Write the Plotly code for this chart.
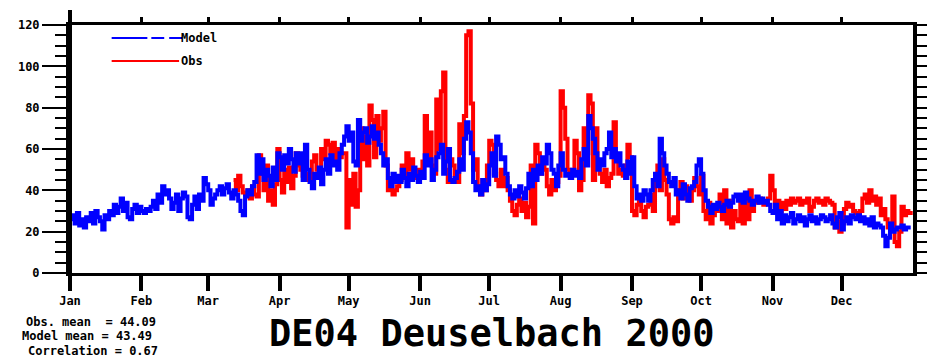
import numpy as np
import pandas as pd
import plotly.graph_objects as go

# Daily ozone-like series for station DE04 Deuselbach, year 2000 (366 days)
days = pd.date_range("2000-01-01", periods=366, freq="D")

model = [
    26, 28, 24, 29, 23, 26, 22, 27, 25, 29,
    24, 30, 27, 25, 21, 28, 26, 30, 28, 33,
    29, 32, 36, 30, 34, 27, 26, 31, 33, 29,
    32, 30, 29, 31, 30, 32, 35, 31, 38, 34,
    42, 38, 40, 36, 31, 34, 38, 30, 36, 39,
    37, 27, 26, 33, 37, 31, 38, 35, 46, 43,
    40, 33, 36, 38, 40, 42, 38, 41, 43, 39,
    36, 40, 38, 35, 30, 28, 37, 40, 38, 42,
    44, 57, 48, 55, 45, 50, 47, 42, 51, 45,
    58, 56, 50, 57, 53, 60, 55, 49, 58, 53,
    58, 45, 62, 50, 44, 41, 48, 46, 51, 43,
    50, 55, 48, 57, 52, 54, 50, 58, 62, 66,
    71, 64, 68, 54, 52, 74, 64, 68, 70, 63,
    66, 71, 65, 68, 62, 58, 52, 55, 46, 42,
    48, 44, 47, 44, 50, 46, 42, 48, 45, 51,
    47, 44, 49, 46, 57, 52, 55, 45, 50, 56,
    58, 62, 48, 54, 60, 45, 44, 46, 49, 55,
    50, 65, 73, 68, 58, 44, 40, 42, 38, 45,
    40, 43, 52, 58, 47, 66, 62, 55, 56, 48,
    42, 38, 36, 40, 37, 42, 39, 36, 41, 48,
    42, 50, 45, 52, 48, 56, 53, 62, 58, 50,
    48, 42, 52, 58, 50, 47, 48, 46, 50, 47,
    49, 46, 55, 60, 52, 76, 70, 65, 58, 50,
    55, 52, 58, 60, 68, 56, 60, 54, 58, 52,
    50, 46, 54, 48, 56, 42, 36, 38, 35, 40,
    38, 35, 40, 45, 48, 42, 65, 58, 52, 48,
    44, 42, 46, 38, 40, 36, 43, 38, 35, 41,
    42, 44, 52, 55, 48, 40, 35, 32, 29, 33,
    31, 34, 32, 30, 33, 35, 32, 34, 37, 38,
    35, 38, 34, 39, 36, 35, 33, 35, 37, 34,
    36, 34, 35, 33, 30, 29, 33, 26, 30, 24,
    28, 25, 27, 29, 24, 26, 28, 25, 27, 23,
    26, 28, 25, 27, 24, 26, 28, 27, 25, 26,
    28, 24, 22, 27, 29, 21, 25, 27, 24, 28,
    27, 26, 28, 25, 27, 24, 26, 23, 27, 22,
    24, 23, 22, 18, 13, 17, 24, 20, 21, 22,
    22, 23, 21, 22, 22, 22,
]

# Observations start in mid-March
obs = [None] * 71 + [
    45, 40, 47, 42, 39, 38, 40, 36, 42,
    38, 37, 57, 48, 40, 52, 35, 40, 33, 43,
    60, 45, 39, 50, 44, 51, 41, 47, 58, 52,
    50, 47, 45, 48, 46, 54, 57, 50, 47, 60,
    55, 64, 62, 58, 63, 55, 60, 56, 58, 58,
    22, 45, 33, 48, 32, 40, 70, 55, 66, 52,
    81, 74, 56, 76, 64, 70, 78, 52, 40, 44,
    38, 40, 42, 45, 52, 46, 58, 50, 55, 48,
    46, 50, 48, 54, 76, 56, 68, 52, 48, 84,
    60, 88, 97, 50, 44, 55, 52, 47, 44, 72,
    58, 76, 115, 117, 82, 50, 55, 42, 38, 45,
    40, 52, 64, 62, 48, 45, 42, 50, 42, 46,
    40, 35, 30, 28, 33, 36, 30, 34, 27, 32,
    52, 24, 62, 58, 48, 55, 50, 42, 38, 45,
    40, 44, 47, 88, 80, 65, 50, 46, 48, 64,
    58, 40, 45, 70, 58, 86, 82, 45, 70, 52,
    48, 44, 50, 42, 46, 48, 73, 55, 48, 50,
    47, 52, 62, 56, 30, 28, 33, 36, 30, 27,
    32, 33, 38, 30, 44, 52, 40, 55, 45, 38,
    26, 24, 27, 25, 40, 44, 36, 42, 38, 35,
    40, 46, 42, 38, 47, 30, 26, 34, 24, 28,
    32, 30, 38, 26, 40, 24, 35, 22, 30, 26,
    25, 34, 24, 38, 26, 40, 30, 35, 34, 36,
    35, 33, 34, 36, 47, 40, 32, 35, 30, 34,
    31, 35, 33, 36, 34, 35, 36, 33, 35, 34,
    36, 30, 32, 35, 36, 34, 35, 33, 36, 35,
    34, 33, 22, 25, 20, 24, 31, 34, 32, 33,
    30, 29, 27, 30, 36, 38, 34, 40, 35, 37,
    33, 36, 28, 31, 26, 22, 24, 37, 15, 13,
    20, 32, 28, 30, 29, 30,
]

month_starts = pd.date_range("2000-01-01", periods=12, freq="MS")
month_labels = ["Jan", "Feb", "Mar", "Apr", "May", "Jun",
                "Jul", "Aug", "Sep", "Oct", "Nov", "Dec"]
y_ticks = [0, 20, 40, 60, 80, 100, 120]
title_text = "DE04 Deuselbach 2000"

# Summary statistics over days with both series available
m_arr = np.array(model, dtype=float)
o_arr = np.array([np.nan if v is None else v for v in obs], dtype=float)
both = ~np.isnan(o_arr)
obs_mean = o_arr[both].mean()
mod_mean = m_arr[both].mean()
corr = np.corrcoef(o_arr[both], m_arr[both])[0, 1]

BLUE = "#0000ff"
RED = "#ff0000"
FONT = "DejaVu Sans Mono"
x_range = ["2000-01-01", "2001-01-01"]

fig = go.Figure()
fig.add_trace(go.Scatter(x=days, y=obs, mode="lines", line=dict(color=RED, width=4, shape="hv"),
                         connectgaps=False, showlegend=False, hoverinfo="skip"))
fig.add_trace(go.Scatter(x=days, y=model, mode="lines", line=dict(color=BLUE, width=4, shape="hv"),
                         showlegend=False, hoverinfo="skip"))
# carrier trace for the top / right frame axes
fig.add_trace(go.Scatter(x=[days[0]], y=[None], xaxis="x2", yaxis="y2",
                         mode="lines", showlegend=False, hoverinfo="skip"))

tick_font = dict(family=FONT, size=12, color="black", weight="bold")

fig.update_layout(
    width=935, height=357,
    margin=dict(l=70, r=15, t=25, b=84),
    paper_bgcolor="white", plot_bgcolor="white",
    xaxis=dict(type="date", range=x_range, tickvals=month_starts, ticktext=month_labels,
               ticks="outside", ticklen=15, tickwidth=4, tickcolor="black",
               showline=True, linewidth=3, linecolor="black", showgrid=False, zeroline=False,
               tickfont=tick_font),
    xaxis2=dict(type="date", range=x_range, overlaying="x", side="top", tickvals=month_starts,
                ticks="outside", ticklen=5, tickwidth=3, tickcolor="black", showticklabels=False,
                showline=True, linewidth=3, linecolor="black", showgrid=False, zeroline=False),
    yaxis=dict(range=[0, 120], tickvals=y_ticks, ticks="outside", ticklen=24, tickwidth=2,
               tickcolor="black", showline=True, linewidth=4, linecolor="black",
               showgrid=False, zeroline=False, tickfont=tick_font,
               minor=dict(dtick=5, ticks="outside", ticklen=11, tickwidth=2, tickcolor="black",
                          showgrid=False)),
    yaxis2=dict(range=[0, 120], overlaying="y", side="right", dtick=5, ticks="outside",
                ticklen=10, tickwidth=2, tickcolor="black", showticklabels=False,
                showline=True, linewidth=4, linecolor="black", showgrid=False, zeroline=False),
)

def px_x(p):
    return (p - 70) / 850.0

def px_y(p):
    return (273 - p) / 248.0

shapes = [
    # left axis spine extending past the frame
    dict(type="line", xref="paper", yref="paper", x0=0, x1=0, y0=px_y(290), y1=px_y(10),
         line=dict(color="black", width=4)),
    # legend keys
    dict(type="line", xref="paper", yref="paper", x0=px_x(112), x1=px_x(148), y0=px_y(38), y1=px_y(38),
         line=dict(color=BLUE, width=2)),
    dict(type="line", xref="paper", yref="paper", x0=px_x(152), x1=px_x(165), y0=px_y(38), y1=px_y(38),
         line=dict(color=BLUE, width=2)),
    dict(type="line", xref="paper", yref="paper", x0=px_x(170), x1=px_x(183), y0=px_y(38), y1=px_y(38),
         line=dict(color=BLUE, width=2)),
    dict(type="line", xref="paper", yref="paper", x0=px_x(112), x1=px_x(180), y0=px_y(61), y1=px_y(61),
         line=dict(color=RED, width=2)),
]

small = dict(family=FONT, size=12, color="black", weight="bold")
annotations = [
    dict(text="Model", xref="paper", yref="paper", x=px_x(180), y=px_y(38),
         xanchor="left", yanchor="middle", showarrow=False, font=small),
    dict(text="Obs", xref="paper", yref="paper", x=px_x(180), y=px_y(61),
         xanchor="left", yanchor="middle", showarrow=False, font=small),
    dict(text=f"Obs. mean  = {obs_mean:.2f}", xref="paper", yref="paper", x=px_x(24), y=px_y(322),
         xanchor="left", yanchor="middle", showarrow=False, font=small),
    dict(text=f"Model mean = {mod_mean:.2f}", xref="paper", yref="paper", x=px_x(20), y=px_y(336),
         xanchor="left", yanchor="middle", showarrow=False, font=small),
    dict(text=f"Correlation = {corr:.2f}", xref="paper", yref="paper", x=px_x(26), y=px_y(351),
         xanchor="left", yanchor="middle", showarrow=False, font=small),
    dict(text=title_text, xref="paper", yref="paper", x=px_x(495), y=px_y(333),
         xanchor="center", yanchor="middle", showarrow=False,
         font=dict(family=FONT, size=37, color="black", weight="bold")),
]
fig.update_layout(shapes=shapes, annotations=annotations)

fig.write_html("out.html")
